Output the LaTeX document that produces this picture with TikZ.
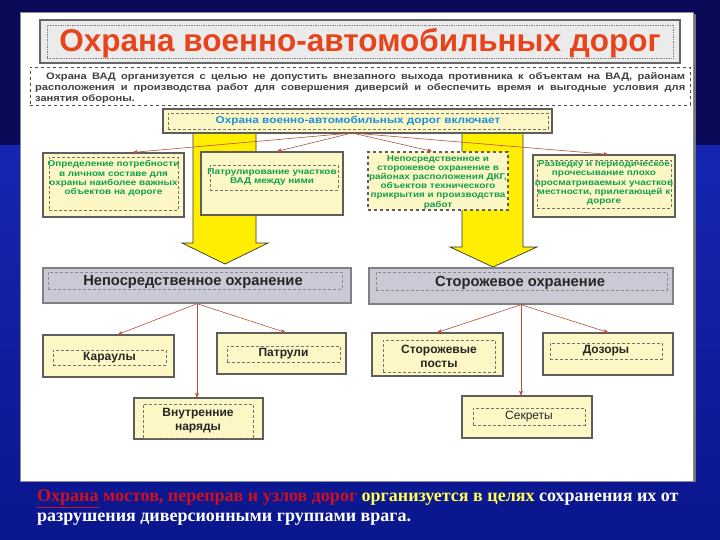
\documentclass[tikz,border=0pt]{standalone}
\usepackage{fontspec}
\setmainfont{Liberation Sans}
\newfontfamily\widefont[FakeStretch=1.18]{Liberation Sans}
\newfontfamily\slidefont{Liberation Serif}
\usetikzlibrary{arrows}

\definecolor{navy}{HTML}{0A0A58}
\definecolor{slideblue}{HTML}{1626B2}
\definecolor{deepblue}{HTML}{0A168C}
\definecolor{titlered}{HTML}{E8441C}
\definecolor{linkblue}{HTML}{1E8EE0}
\definecolor{textgreen}{HTML}{0EA04E}
\definecolor{paleyellow}{HTML}{FCF7C4}
\definecolor{arrowyellow}{HTML}{FFEE00}
\definecolor{framegray}{HTML}{5E5E5E}
\definecolor{bargray}{HTML}{CACAD6}
\definecolor{linkred}{HTML}{B4503C}
\definecolor{crimson}{HTML}{D01020}
\definecolor{softyellow}{HTML}{FFFF55}

\begin{document}
\begin{tikzpicture}[x=1pt, y=-1pt, >=stealth']
  \tikzstyle{frame} = [draw=framegray, line width=1.3pt, fill=paleyellow, inner sep=0pt]
  \tikzstyle{dashbox} = [draw=black!55, densely dashed, line width=0.6pt, inner sep=0pt]
  \tikzstyle{bar} = [draw=black!50, line width=1.4pt, fill=bargray, inner sep=0pt]
  \tikzstyle{link} = [->, draw=linkred, line width=0.6pt]
  \tikzstyle{bigarrow} = [fill=arrowyellow, draw=black!80, line width=0.7pt]
  \tikzstyle{duty} = [align=center, inner sep=0pt, text=textgreen, font=\widefont\bfseries\fontsize{8.4}{9.2}\selectfont]
  \tikzstyle{kind} = [align=center, inner sep=0pt, text=black!85, font=\bfseries\fontsize{12}{14}\selectfont]
  \tikzstyle{group} = [inner sep=0pt, text=black!85, font=\bfseries\fontsize{14.7}{16}\selectfont]

  % slide background and white sheet
  \useasboundingbox (0,0) rectangle (720,540);
  \fill[navy] (0,0) rectangle (720,146);
  \shade[top color=slideblue, bottom color=deepblue] (0,146) rectangle (720,540);
  \draw[fill=white, draw=black!45, line width=1pt] (20,13) rectangle (693,481);
  \draw[black!55, line width=1.2pt] (695,14) -- (695,482);

  % heading
  \node[fill=black!8, draw=black!60, line width=1.6pt, minimum width=640pt, minimum height=43pt, inner sep=0pt] (titlebox) at (360,41.5) {};
  \node[draw=black!50, densely dotted, line width=0.7pt, minimum width=626pt, minimum height=33pt, inner sep=0pt] (titlein) at (360,41.5) {};
  \node[inner sep=0pt, text=titlered, font=\bfseries\fontsize{31.5}{32}\selectfont] (title) at (360,43.5) {Охрана военно-автомобильных дорог};

  \node[draw=black!70, dashed, line width=0.6pt, minimum width=660pt, minimum height=38pt] (introbox) at (360,86.5) {};
  \node[anchor=north west, inner sep=0pt, text width=650pt, align=justify, text=black!75,
        font=\widefont\bfseries\fontsize{9.4}{11}\selectfont] (intro) at (35,72.5)
    {\hspace*{11pt}Охрана ВАД организуется с целью не допустить внезапного выхода противника к объектам на ВАД, районам\linebreak
     расположения и производства работ для совершения диверсий и обеспечить время и выгодные условия для\linebreak
     занятия обороны.};

  % big yellow arrows
  \draw[bigarrow] (193,128) -- (256,128) -- (256,243) -- (268,243) -- (225,264) -- (182,243) -- (193,243) -- cycle;
  \draw[bigarrow] (462,128) -- (523,128) -- (523,247) -- (537,247) -- (493,267) -- (450,247) -- (462,247) -- cycle;

  \node[frame, minimum width=389pt, minimum height=24pt] (incl) at (357.5,121) {};
  \node[dashbox, minimum width=380pt, minimum height=16pt, text=linkblue,
        font=\widefont\bfseries\fontsize{10}{12}\selectfont] (incltext) at (358,121) {Охрана военно-автомобильных дорог включает};
  \coordinate (hub) at (352,133);

  % what it includes
  \node[frame, minimum width=141pt, minimum height=64pt] (need) at (113.5,185) {};
  \node[dashbox, minimum width=129pt, minimum height=53pt] (needin) at (113.5,183.5) {};
  \node[duty] (needtext) at (113.5,178.5) {Определение потребности\\в личном составе для\\охраны наиболее важных\\объектов на дороге};

  \node[frame, minimum width=142pt, minimum height=63pt] (patrol) at (272,183.5) {};
  \node[dashbox, minimum width=128pt, minimum height=25pt] (patrolin) at (274,177.5) {};
  \node[duty] (patroltext) at (272,177) {Патрулирование участков\\ВАД между ними};

  \node[frame, dashed, line width=1.6pt, minimum width=140pt, minimum height=58pt] (direct) at (438,181) {};
  \node[duty] (directtext) at (438,182) {Непосредственное и\\сторожевое охранение в\\районах расположения ДКГ,\\объектов технического\\прикрытия и производства\\работ};

  \node[frame, minimum width=142pt, minimum height=62pt] (recon) at (604,186) {};
  \node[dashbox, minimum width=134pt, minimum height=48pt] (reconin) at (604,184) {};
  \node[duty] (recontext) at (604,183) {Разведку и периодическое\\прочесывание плохо\\просматриваемых участков\\местности, прилегающей к\\дороге};

  \draw[link] (hub) -- (need.59);
  \draw[link] (hub) -- (patrol.81);
  \draw[link] (hub) -- (direct.102);
  \draw[link] (hub) -- (recon.83);

  % two kinds of guarding
  \node[bar, minimum width=308pt, minimum height=35pt] (directbar) at (197,285.5) {};
  \node[dashbox, draw=black!45, minimum width=294pt, minimum height=17pt] (directbarin) at (195,280.5) {};
  \node[group] (directbartext) at (193,282) {Непосредственное охранение};

  \node[bar, minimum width=304pt, minimum height=36pt] (guardbar) at (521,286) {};
  \node[dashbox, draw=black!45, minimum width=291pt, minimum height=18pt] (guardbarin) at (521.5,281) {};
  \node[group] (guardbartext) at (520,283) {Сторожевое охранение};

  % forces of each kind
  \node[frame, minimum width=131pt, minimum height=42pt] (guards) at (108.5,356) {};
  \node[dashbox, minimum width=113pt, minimum height=15pt, kind] (guardstext) at (109.5,357.5) {Караулы};

  \node[frame, minimum width=129pt, minimum height=41pt] (patrols) at (281.5,353.5) {};
  \node[dashbox, minimum width=113pt, minimum height=16pt, kind] (patrolstext) at (283.5,354) {Патрули};

  \node[frame, minimum width=129pt, minimum height=41pt] (details) at (198.5,418.5) {};
  \node[dashbox, minimum width=110pt, minimum height=34pt, kind] (detailstext) at (198,421) {Внутренние\\наряды};

  \node[frame, minimum width=131pt, minimum height=43pt] (posts) at (437.5,354.5) {};
  \node[dashbox, minimum width=112pt, minimum height=32pt, kind] (poststext) at (439,356) {Сторожевые\\посты};

  \node[frame, minimum width=130pt, minimum height=42pt] (scouts) at (608,354) {};
  \node[dashbox, minimum width=112pt, minimum height=16pt, kind] (scoutstext) at (606,351) {Дозоры};

  \node[frame, minimum width=130pt, minimum height=42pt] (secrets) at (527,417) {};
  \node[dashbox, minimum width=112pt, minimum height=17pt, kind, font=\fontsize{12}{14}\selectfont] (secretstext) at (529,416.5) {Секреты};

  \draw[link] (directbar.south) -- (guards.66);
  \draw[link] (directbar.south) -- (patrols.80);
  \draw[link] (directbar.south) -- (directbar.south |- details.north);
  \draw[link] (guardbar.south) -- (posts.north);
  \draw[link] (guardbar.south) -- (scouts.north);
  \draw[link] (guardbar.south) -- (guardbar.south |- secrets.north);

  % note under the sheet
  \node[anchor=north west, inner sep=0pt, align=left, text=white,
        font=\slidefont\bfseries\fontsize{18}{20}\selectfont] (note) at (37,489.5)
    {\textcolor{crimson}{\underline{Охрана} мостов, переправ и узлов дорог} \textcolor{softyellow}{организуется в целях} сохранения их от\\
     разрушения диверсионными группами врага.};
\end{tikzpicture}
\end{document}
